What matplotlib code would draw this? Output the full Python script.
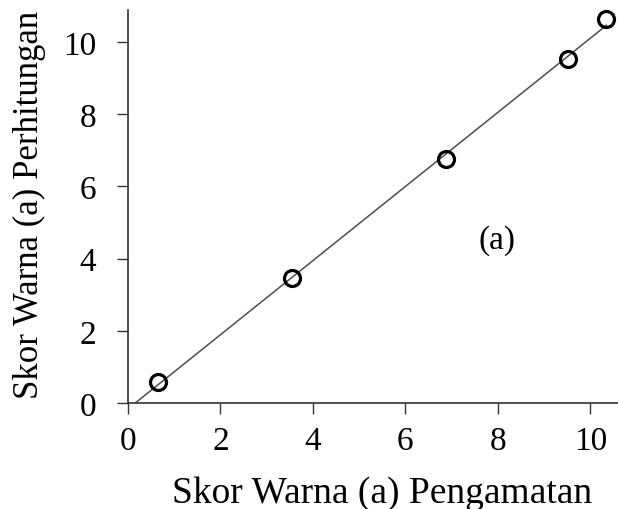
"""
Observed vs. calculated colour score (a) with fitted line
"""
import numpy as np
import matplotlib.pyplot as plt

plt.rcParams['font.family'] = ['Liberation Serif', 'DejaVu Serif']

# observed and calculated colour scores
pengamatan = [0.65, 3.55, 6.88, 9.52, 10.35]
perhitungan = [0.58, 3.46, 6.76, 9.53, 10.64]
ticks = [0, 2, 4, 6, 8, 10]

fig = plt.figure(figsize=(6.18, 5.10), dpi=100)
ax = fig.add_axes([128 / 618, 1 - 404 / 510, 490 / 618, 393 / 510])

# least squares line through the points
slope, intercept = np.polyfit(pengamatan, perhitungan, 1)
x_line = np.array([-intercept / slope, max(pengamatan)])
ax.plot(x_line, slope * x_line + intercept, color='#4d4d4d', lw=1.1, zorder=2)

ax.plot(pengamatan, perhitungan, 'o', ms=11.5, mfc='none', mec='black',
        mew=2.3, zorder=3)

ax.set_xlim(0, 10.6)
ax.set_ylim(0, 10.89)
ax.set_xticks(ticks)
ax.set_yticks(ticks)

for side in ('top', 'right'):
    ax.spines[side].set_visible(False)
for side in ('left', 'bottom'):
    ax.spines[side].set_color('#333333')
    ax.spines[side].set_linewidth(1.2)
ax.tick_params(direction='out', length=8, width=1.0, color='#333333',
               labelsize=24)
ax.tick_params(axis='x', pad=8)
ax.tick_params(axis='y', pad=15)

ax.text(7.99, 4.54, '(a)', fontsize=24, ha='center', va='center')

ax.set_xlabel('Skor Warna (a) Pengamatan', fontsize=27)
ax.set_ylabel('Skor Warna (a) Perhitungan', fontsize=25)
ax.xaxis.set_label_coords(0.518, -0.183)
ax.yaxis.set_label_coords(-0.167, 0.506)

plt.savefig('out.png', dpi=100)
